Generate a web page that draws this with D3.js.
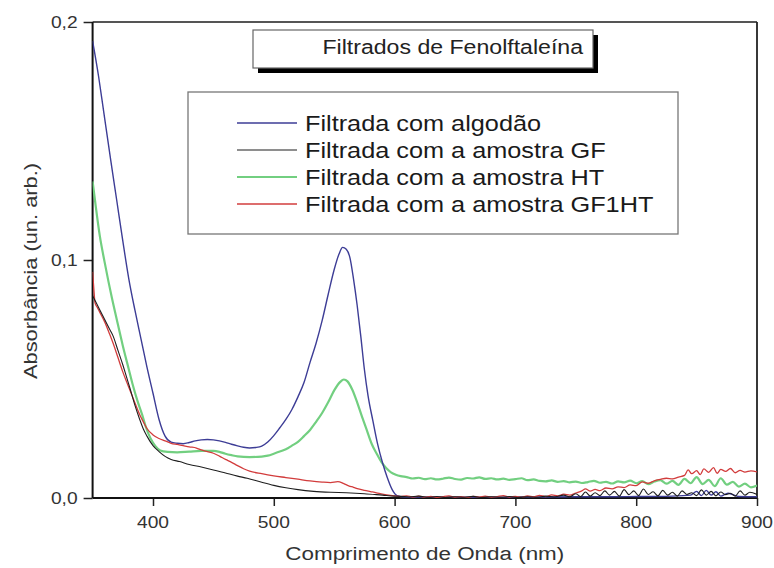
<!DOCTYPE html>
<html>
<head>
<meta charset="utf-8">
<script src="https://cdn.jsdelivr.net/npm/d3@7"></script>
<style>
  html, body { margin: 0; padding: 0; background: #fff; }
  svg { display: block; font-family: "Liberation Sans", Arial, sans-serif; }
</style>
</head>
<body>
<svg id="chart" width="774" height="568"></svg>
<script>
// ---------------- DATA ----------------
const titleText = "Filtrados de Fenolftaleína";
const xTitle = "Comprimento de Onda (nm)";
const yTitle = "Absorbância (un. arb.)";
const xTickValues = [400, 500, 600, 700, 800, 900];
const xTickLabels = ["400", "500", "600", "700", "800", "900"];
const yTickValues = [0.0, 0.1, 0.2];
const yTickLabels = ["0,0", "0,1", "0,2"];
const seriesNames = [
  "Filtrada com algodão",
  "Filtrada com a amostra GF",
  "Filtrada com a amostra HT",
  "Filtrada com a amostra GF1HT"
];
const seriesColors = ["#3d3d96", "#1e1e1e", "#72cf80", "#d23c3c"];

const algodao = [
  [350,0.192],[355,0.177],[359,0.163],[365,0.142],[370,0.125],[375,0.108],[380,0.092],
  [385,0.079],[390,0.067],[395,0.055],[400,0.044],[405,0.033],[410,0.026],[415,0.0235],
  [420,0.023],[425,0.0228],[430,0.0233],[435,0.024],[440,0.0244],[445,0.0246],[450,0.0244],
  [455,0.024],[460,0.0234],[465,0.0226],[470,0.0219],[475,0.0213],[480,0.021],[485,0.0212],
  [490,0.0218],[495,0.0235],[500,0.0262],[505,0.0295],[510,0.033],[515,0.0372],[520,0.0425],
  [525,0.0485],[530,0.057],[535,0.065],[540,0.0745],[545,0.0855],[550,0.096],[554,0.1025],
  [557,0.1053],[560,0.1045],[563,0.101],[566,0.092],[569,0.081],[572,0.068],[575,0.054],
  [578,0.043],[582,0.0325],[586,0.0225],[590,0.0148],[594,0.0085],[598,0.0035],[602,0.001],
  [610,0.0003],[630,0.0004],[660,0.0003],[700,0.0004],[750,0.0005],[800,0.0006],[830,0.0008],
  [845,0.0012],[850,0.0028],[854,0.0010],[858,0.0032],[862,0.0012],[866,0.0026],[870,0.0008],
  [876,0.0020],[885,0.0006],[900,0.0005]
];

const amostraGF = [
  [350,0.085],[353,0.082],[356,0.079],[360,0.075],[364,0.071],[367,0.068],[371,0.062],
  [375,0.056],[378,0.051],[381,0.046],[385,0.039],[389,0.033],[392,0.029],[395,0.026],
  [400,0.022],[405,0.0195],[410,0.0175],[415,0.0162],[422,0.0153],[430,0.0141],[440,0.013],
  [450,0.0118],[460,0.0105],[470,0.0092],[478,0.0083],[490,0.0066],[500,0.0053],[510,0.0043],
  [520,0.0035],[533,0.0028],[547,0.0024],[560,0.0022],[575,0.0018],[590,0.0012],[600,0.0008],
  [605,0.0007],[612,0.0004],[620,0.0008],[628,0.0003],[635,0.0006],[642,0.0002],[650,0.0005],
  [658,0.0003],[665,0.0007],[672,0.0002],[680,0.0005],[688,0.0003],[695,0.0006],[702,0.0002],
  [710,0.0005],[718,0.0003],[725,0.0008],[732,0.0004],[740,0.0012],[745,0.0005],[750,0.0018],
  [754,0.0006],[758,0.0025],[762,0.0008],[766,0.0022],[770,0.0010],[774,0.0030],[778,0.0012],
  [782,0.0028],[786,0.0008],[790,0.0035],[794,0.0014],[798,0.0030],[802,0.0010],[806,0.0038],
  [810,0.0015],[814,0.0026],[818,0.0009],[822,0.0032],[826,0.0012],[830,0.0024],[834,0.0008],
  [838,0.0030],[842,0.0015],[846,0.0022],[850,0.0010],[854,0.0034],[858,0.0012],[862,0.0028],
  [866,0.0009],[870,0.0025],[874,0.0014],[878,0.0020],[882,0.0008],[886,0.0030],[890,0.0012],
  [894,0.0024],[900,0.0015]
];

const amostraHT = [
  [350,0.133],[352,0.125],[356,0.110],[360,0.099],[366,0.084],[370,0.075],[375,0.064],
  [380,0.054],[383,0.048],[387,0.041],[391,0.035],[394,0.030],[398,0.025],[402,0.0218],
  [406,0.0200],[412,0.0194],[420,0.0192],[430,0.0195],[440,0.0198],[450,0.0198],[455,0.0194],
  [460,0.0186],[465,0.018],[470,0.0175],[480,0.0172],[490,0.0174],[495,0.0178],[500,0.0186],
  [505,0.0195],[510,0.0205],[515,0.022],[520,0.0236],[525,0.026],[530,0.0286],[535,0.032],
  [540,0.0357],[545,0.0402],[550,0.0452],[555,0.0488],[558,0.0498],[561,0.0490],[565,0.0455],
  [569,0.0402],[573,0.0342],[577,0.0285],[581,0.0228],[585,0.0188],[589,0.0152],[593,0.0126],
  [597,0.0108],[601,0.0098],[605,0.0092],
  [610,0.0088],[615,0.0082],[620,0.0085],[625,0.0079],[630,0.0083],[635,0.0078],[640,0.0081],
  [645,0.0086],[650,0.0080],[655,0.0077],[660,0.0084],[665,0.0082],[670,0.0087],[675,0.0080],
  [680,0.0083],[685,0.0078],[690,0.0081],[695,0.0076],[700,0.0079],[705,0.0083],[710,0.0075],
  [715,0.0078],[720,0.0072],[725,0.0070],[730,0.0074],[735,0.0068],[740,0.0071],[745,0.0066],
  [750,0.0069],[755,0.0063],[760,0.0067],[765,0.0072],[770,0.0064],[775,0.0068],[780,0.0061],
  [785,0.0070],[790,0.0066],[795,0.0073],[800,0.0062],[805,0.0071],[810,0.0058],[815,0.0069],
  [820,0.0075],[825,0.0060],[830,0.0072],[835,0.0055],[840,0.0080],[845,0.0062],[850,0.0088],
  [855,0.0058],[860,0.0076],[865,0.0050],[870,0.0083],[875,0.0056],[880,0.0068],[885,0.0048],
  [890,0.0060],[895,0.0045],[900,0.0052]
];

const amostraGF1HT = [
  [350,0.095],[351,0.088],[352,0.082],[354,0.080],[356,0.078],[360,0.074],[364,0.069],
  [367,0.065],[371,0.059],[375,0.053],[378,0.049],[381,0.0452],[385,0.040],[389,0.035],
  [392,0.032],[395,0.0292],[400,0.0265],[405,0.025],[410,0.024],[415,0.023],[420,0.0225],
  [425,0.022],[430,0.0215],[436,0.021],[440,0.0202],[445,0.0195],[450,0.0188],[455,0.0176],
  [460,0.0162],[465,0.015],[470,0.0136],[475,0.0123],[480,0.0113],[490,0.0102],[500,0.0093],
  [510,0.0086],[520,0.0079],[530,0.0072],[540,0.0067],[547,0.0065],[553,0.0069],[558,0.0060],
  [562,0.0051],[566,0.0045],[570,0.0038],[575,0.0032],[580,0.0027],[585,0.0022],[590,0.0016],
  [595,0.0012],[600,0.0009],
  [605,0.0006],[610,0.0009],[615,0.0004],[620,0.0008],[625,0.0003],[630,0.0007],[635,0.0002],
  [640,0.0006],[645,0.0009],[650,0.0003],[655,0.0006],[660,0.0002],[665,0.0007],[670,0.0004],
  [675,0.0008],[680,0.0003],[685,0.0006],[690,0.0010],[695,0.0004],[700,0.0007],[705,0.0003],
  [710,0.0009],[715,0.0005],[720,0.0011],[725,0.0006],[730,0.0013],[735,0.0009],[740,0.0016],
  [745,0.0012],[750,0.0021],[755,0.0030],[758,0.0038],[762,0.0029],[766,0.0036],[770,0.0031],
  [775,0.0042],[780,0.0038],[785,0.0047],[790,0.0044],[795,0.0055],[800,0.0052],[805,0.0068],
  [810,0.0062],[815,0.0072],[820,0.0078],[825,0.0083],[830,0.0080],[835,0.0088],[840,0.0095],
  [843,0.0118],[846,0.0102],[850,0.0115],[853,0.0098],[856,0.0122],[860,0.0108],[864,0.0128],
  [867,0.0104],[870,0.0120],[874,0.0112],[878,0.0124],[882,0.0106],[886,0.0116],[890,0.0109],
  [895,0.0114],[900,0.0110]
];

const seriesData = [algodao, amostraGF, amostraHT, amostraGF1HT];

// ---------------- LAYOUT ----------------
const svg = d3.select("#chart");
const W = 774, H = 568;
const plot = { left: 92.6, right: 757, top: 22, bottom: 498 };

const x = d3.scaleLinear().domain([350, 900]).range([plot.left, plot.right]);
const y = d3.scaleLinear().domain([0, 0.2]).range([plot.bottom, plot.top]);

svg.append("rect").attr("width", W).attr("height", H).attr("fill", "#fff");

svg.append("defs").append("clipPath").attr("id", "clip")
  .append("rect")
  .attr("x", plot.left).attr("y", plot.top)
  .attr("width", plot.right - plot.left).attr("height", plot.bottom - plot.top);

// frame top & right
svg.append("line").attr("x1", plot.left).attr("x2", plot.right)
  .attr("y1", plot.top).attr("y2", plot.top)
  .attr("stroke", "#555").attr("stroke-width", 2);
svg.append("line").attr("x1", plot.right).attr("x2", plot.right)
  .attr("y1", plot.top).attr("y2", plot.bottom)
  .attr("stroke", "#222").attr("stroke-width", 1.8);

// minor tick positions: five minor ticks between majors
const xMinorTicks = [];
for (let base = 300; base < 900; base += 100) {
  for (let k = 1; k <= 5; k++) {
    const v = base + k * 100 / 6;
    if (v > 350 && v < 900) xMinorTicks.push(v);
  }
}
const yMinorTicks = [0.02, 0.04, 0.06, 0.08, 0.12, 0.14, 0.16, 0.18];

const tickFont = 16, tickScale = 1.2;

// X axis
const gx = svg.append("g").attr("transform", `translate(0,${plot.bottom})`);
gx.call(d3.axisBottom(x).tickValues(xMinorTicks).tickSize(5).tickFormat(""));
gx.call(d3.axisBottom(x).tickValues(xTickValues).tickSize(8).tickFormat(""));
gx.selectAll(".domain").remove();
gx.selectAll(".tick line").attr("stroke", "#222").attr("stroke-width", 1.5);
gx.append("line").attr("x1", plot.left).attr("x2", plot.right)
  .attr("stroke", "#111").attr("stroke-width", 2);
xTickValues.forEach((v, i) => {
  gx.append("text")
    .attr("transform", `translate(${x(v)},30) scale(${tickScale},1)`)
    .attr("text-anchor", "middle")
    .attr("font-size", tickFont).attr("fill", "#333")
    .text(xTickLabels[i]);
});

// Y axis
const gy = svg.append("g").attr("transform", `translate(${plot.left},0)`);
gy.call(d3.axisLeft(y).tickValues(yMinorTicks).tickSize(6).tickFormat(""));
gy.call(d3.axisLeft(y).tickValues(yTickValues).tickSize(9).tickFormat(""));
gy.selectAll(".domain").remove();
gy.selectAll(".tick line").attr("stroke", "#222").attr("stroke-width", 1.5);
gy.append("line").attr("y1", plot.top).attr("y2", plot.bottom)
  .attr("stroke", "#111").attr("stroke-width", 2);
yTickValues.forEach((v, i) => {
  gy.append("text")
    .attr("transform", `translate(-15,${y(v) + 5.5}) scale(${tickScale},1)`)
    .attr("text-anchor", "end")
    .attr("font-size", tickFont).attr("fill", "#333")
    .text(yTickLabels[i]);
});

// axis titles
svg.append("text")
  .attr("transform", `translate(${(plot.left + plot.right) / 2},560) scale(1.18,1)`)
  .attr("text-anchor", "middle").attr("font-size", 19).attr("fill", "#333")
  .text(xTitle);
svg.append("text")
  .attr("transform", `translate(37,271) rotate(-90) scale(1.15,1)`)
  .attr("text-anchor", "middle").attr("font-size", 19).attr("fill", "#333")
  .text(yTitle);

// ---------------- LINES ----------------
const line = d3.line().x(d => x(d[0])).y(d => y(d[1])).curve(d3.curveMonotoneX);
const drawOrder = [2, 0, 3, 1];
const widths = [1.4, 1.1, 2.2, 1.3];
const gLines = svg.append("g").attr("clip-path", "url(#clip)");
drawOrder.forEach(i => {
  gLines.append("path")
    .datum(seriesData[i])
    .attr("fill", "none")
    .attr("stroke", seriesColors[i])
    .attr("stroke-width", widths[i])
    .attr("stroke-linejoin", "round")
    .attr("d", line);
});

// ---------------- TITLE BOX ----------------
const tb = { x: 253, y: 30, w: 340, h: 38 };
svg.append("rect").attr("x", tb.x + 5).attr("y", tb.y + 5)
  .attr("width", tb.w).attr("height", tb.h).attr("fill", "#000");
svg.append("rect").attr("x", tb.x).attr("y", tb.y)
  .attr("width", tb.w).attr("height", tb.h)
  .attr("fill", "#fff").attr("stroke", "#666").attr("stroke-width", 1.2);
svg.append("text")
  .attr("transform", `translate(583,54) scale(1.1,1)`)
  .attr("text-anchor", "end").attr("font-size", 21).attr("fill", "#222")
  .text(titleText);

// ---------------- LEGEND ----------------
const lg = { x: 188, y: 92, w: 490, h: 142 };
svg.append("rect").attr("x", lg.x).attr("y", lg.y)
  .attr("width", lg.w).attr("height", lg.h)
  .attr("fill", "#fff").attr("stroke", "#777").attr("stroke-width", 1.3);
const rowY = [123, 150, 177, 204];
const legendWidths = [1.4, 1.2, 2.2, 1.5];
seriesNames.forEach((name, i) => {
  svg.append("line")
    .attr("x1", 237).attr("x2", 297)
    .attr("y1", rowY[i]).attr("y2", rowY[i])
    .attr("stroke", seriesColors[i]).attr("stroke-width", legendWidths[i]);
  svg.append("text")
    .attr("transform", `translate(305,${rowY[i] + 7.5}) scale(1.15,1)`)
    .attr("font-size", 22).attr("fill", "#1a1a1a")
    .text(name);
});
</script>
</body>
</html>
